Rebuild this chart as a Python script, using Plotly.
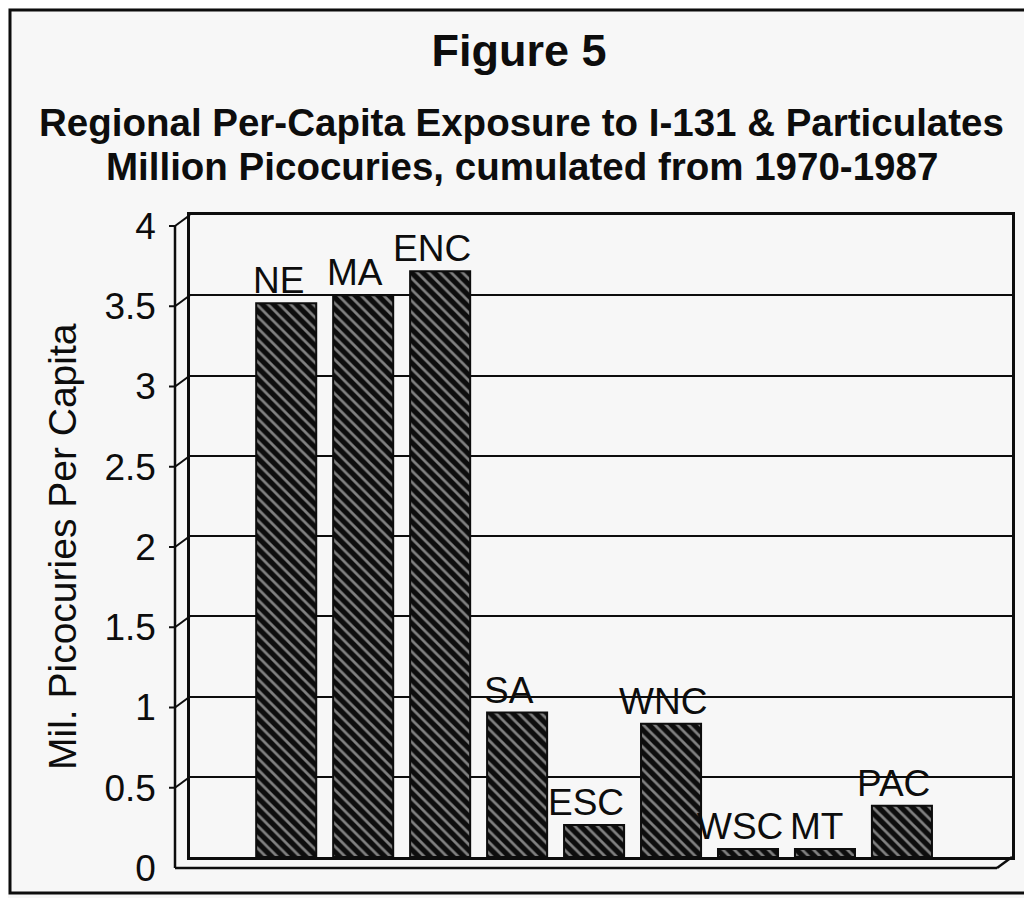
import plotly.graph_objects as go

# ---- data ----
regions = ["NE", "MA", "ENC", "SA", "ESC", "WNC", "WSC", "MT", "PAC"]
exposure = [3.45, 3.50, 3.65, 0.90, 0.20, 0.83, 0.05, 0.05, 0.32]
y_ticks = [0, 0.5, 1, 1.5, 2, 2.5, 3, 3.5, 4]
y_tick_labels = ["0", "0.5", "1", "1.5", "2", "2.5", "3", "3.5", "4"]

title_text = "Figure 5"
subtitle_1 = "Regional Per-Capita Exposure to I-131 & Particulates"
subtitle_2 = "Million Picocuries, cumulated from 1970-1987"
y_title = "Mil. Picocuries Per Capita"

# ---- layout geometry (reference pixel coords, page has 8px body margin) ----
OFF = 8
W, H = 1032 - OFF, 898 - OFF
PL, PR, PT, PB = 190, 1012, 215, 857          # back-wall plot box in page px
ML, MR, MT_, MB = PL - OFF, W - (PR - OFF), PT - OFF, H - (PB - OFF)
PW = W - ML - MR
PH = H - MT_ - MB
DX, DY = 15, 11  # 3D depth offset (px)
FONT = "Liberation Sans, Arial, sans-serif"
BG = "#f7f7f7"
INK = "#0d0d0d"


def px_x(px):
    return (px - PL) / PW


def px_y(py):
    return (PB - py) / PH


fig = go.Figure()
fig.add_trace(go.Bar(
    x=regions,
    y=exposure,
    marker=dict(
        color=INK,
        line=dict(color=INK, width=2),
        pattern=dict(shape="\\", fgcolor="#f4f4f4", bgcolor=INK,
                     size=8, solidity=0.34),
    ),
    hoverinfo="x+y",
))

shapes = []
# outer border
shapes.append(dict(type="rect", xref="paper", yref="paper",
                   x0=px_x(10), x1=px_x(1029), y0=px_y(893), y1=px_y(10),
                   line=dict(color=INK, width=3)))
# front axis line
shapes.append(dict(type="line", xref="paper", yref="paper",
                   x0=px_x(PL - DX), x1=px_x(PL - DX),
                   y0=px_y(PB + DY), y1=px_y(PT + DY),
                   line=dict(color=INK, width=2.5)))
# front floor line
shapes.append(dict(type="line", xref="paper", yref="paper",
                   x0=px_x(PL - DX), x1=px_x(PR - DX),
                   y0=px_y(PB + DY), y1=px_y(PB + DY),
                   line=dict(color=INK, width=2.5)))
shapes.append(dict(type="line", xref="paper", yref="paper",
                   x0=px_x(PR - DX), x1=1,
                   y0=px_y(PB + DY), y1=0,
                   line=dict(color=INK, width=2.5)))
# slanted connectors + tick marks on the front axis
for t in y_ticks:
    shapes.append(dict(type="line", xref="paper", xsizemode="pixel", xanchor=0,
                       x0=-DX, x1=0, yref="y", ysizemode="pixel", yanchor=t,
                       y0=-DY, y1=0, line=dict(color=INK, width=2)))
    shapes.append(dict(type="line", xref="paper", xsizemode="pixel", xanchor=0,
                       x0=-DX - 6, x1=-DX, yref="y", ysizemode="pixel", yanchor=t,
                       y0=-DY, y1=-DY, line=dict(color=INK, width=2)))

annotations = [
    dict(text="<b>" + subtitle_1 + "</b>", xref="paper", yref="paper",
         x=px_x(521), y=px_y(122), showarrow=False,
         xanchor="center", yanchor="middle",
         font=dict(family=FONT, size=38.5, color=INK)),
    dict(text="<b>" + subtitle_2 + "</b>", xref="paper", yref="paper",
         x=px_x(522), y=px_y(166), showarrow=False,
         xanchor="center", yanchor="middle",
         font=dict(family=FONT, size=38.5, color=INK)),
    dict(text=y_title, xref="paper", yref="paper",
         x=px_x(62), y=px_y(547), showarrow=False, textangle=-90,
         xanchor="center", yanchor="middle",
         font=dict(family=FONT, size=39, color=INK)),
]
for r, v in zip(regions, exposure):
    annotations.append(dict(text=r, x=r, y=v, xref="x", yref="y",
                            showarrow=False, xanchor="center", yanchor="bottom",
                            xshift=-8, yshift=0,
                            font=dict(family=FONT, size=37, color=INK)))

fig.update_layout(
    width=W, height=H,
    margin=dict(l=ML, r=MR, t=MT_, b=MB, autoexpand=False),
    paper_bgcolor=BG, plot_bgcolor=BG,
    title=dict(text="<b>" + title_text + "</b>", x=(519 - OFF) / W, xref="container",
               y=1 - (50 - OFF) / H, yref="container", xanchor="center",
               yanchor="middle",
               font=dict(family=FONT, size=45, color=INK)),
    bargap=0.22,
    showlegend=False,
    shapes=shapes,
    annotations=annotations,
    xaxis=dict(type="category", range=[-1.25, 9.43], showticklabels=False,
               showgrid=False, zeroline=False, showline=True, mirror=True,
               linecolor=INK, linewidth=2.5, ticks=""),
    yaxis=dict(range=[0, 4], tickvals=y_ticks, ticktext=y_tick_labels,
               showgrid=True, gridcolor=INK, gridwidth=2, zeroline=False,
               showline=True, mirror=True, linecolor=INK, linewidth=2.5,
               ticks="", ticklabelstandoff=24, ticklabelshift=DY,
               tickfont=dict(family=FONT, size=37, color=INK)),
)

fig.write_html("out.html")
